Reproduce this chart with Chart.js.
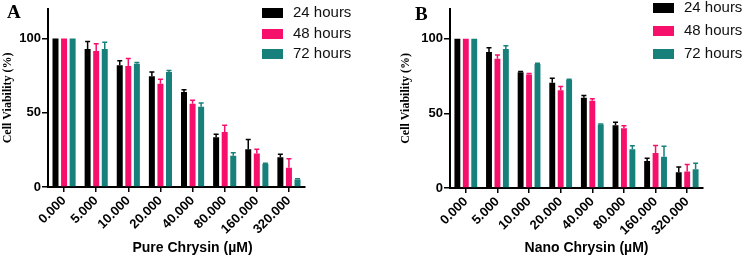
<!DOCTYPE html>
<html>
<head>
<meta charset="utf-8">
<script src="https://cdn.jsdelivr.net/npm/chart.js@4.4.1/dist/chart.umd.min.js"></script>
<style>
  body { margin: 0; background: #fff; }
  #wrap { position: relative; width: 746px; height: 260px; overflow: hidden; }
  .panel { position: absolute; top: 0; width: 373px; height: 260px; }
  .letter { position: absolute; font: bold 19px "Liberation Serif", "Times New Roman", serif; color: #000; }
</style>
</head>
<body>
<div id="wrap">
  <div class="panel" style="left:0"><canvas id="chartA" width="373" height="260"></canvas></div>
  <div class="panel" style="left:373px"><canvas id="chartB" width="373" height="260"></canvas></div>
  <div class="letter" style="left:7px; top:1px">A</div>
  <div class="letter" style="left:415px; top:3px">B</div>
</div>
<script>
// doses on the x axis
const doses = ['0.000', '5.000', '10.000', '20.000', '40.000', '80.000', '160.000', '320.000'];
const seriesNames = ['24 hours', '48 hours', '72 hours'];
const seriesColors = ['#000000', '#f7106b', '#17807a'];
const yTicks = [0, 50, 100];

// panel A - pure chrysin (mean, upper error)
const pure24 = [100, 93, 82, 74.5, 64, 33.5, 25.5, 20];
const pure24Err = [0, 5, 3, 3, 1.5, 2, 6.5, 2];
const pure48 = [100, 91.5, 81.5, 69.5, 56, 37, 22.5, 13];
const pure48Err = [0, 5, 5, 3, 2.5, 4.5, 3, 6];
const pure72 = [100, 93, 83, 77.5, 54, 21, 15.5, 5];
const pure72Err = [0, 4.5, 0.8, 1, 2.5, 2, 0.5, 0.5];

// panel B - nano chrysin
const nano24 = [100, 91, 77.5, 70.5, 60.5, 42, 18, 10.5];
const nano24Err = [0, 3, 0.5, 3, 1.5, 2, 2, 3.5];
const nano48 = [100, 86.5, 76, 65.5, 58.5, 40, 23.5, 11];
const nano48Err = [0, 2.5, 0.7, 2.5, 1.3, 1.7, 5, 4.8];
const nano72 = [100, 93, 83, 72.5, 42.5, 26, 21, 12.5];
const nano72Err = [0, 2.2, 0.5, 0.4, 0.4, 2.3, 7, 4];

const sansBold = { family: '"Liberation Sans", Arial, sans-serif', weight: 'bold', size: 13 };

// upward error bars with a small cap
const errorBars = {
  id: 'errorBars',
  afterDatasetsDraw(chart) {
    const ctx = chart.ctx;
    const y = chart.scales.y;
    chart.data.datasets.forEach((ds, i) => {
      const meta = chart.getDatasetMeta(i);
      meta.data.forEach((bar, j) => {
        const err = ds.errors[j];
        if (!err) return;
        const top = y.getPixelForValue(ds.data[j] + err);
        ctx.save();
        ctx.strokeStyle = ds.backgroundColor;
        ctx.lineWidth = 1.5;
        ctx.beginPath();
        ctx.moveTo(bar.x, bar.y);
        ctx.lineTo(bar.x, top);
        ctx.moveTo(bar.x - 2.5, top);
        ctx.lineTo(bar.x + 2.5, top);
        ctx.stroke();
        ctx.restore();
      });
    });
  }
};

// legend inside the plot (top right) + x title sitting a bit right of centre
const extras = {
  id: 'extras',
  afterDraw(chart, args, opts) {
    const ctx = chart.ctx;
    const area = chart.chartArea;
    ctx.save();
    ctx.font = '15px "Liberation Sans", Arial, sans-serif';
    ctx.textBaseline = 'middle';
    chart.data.datasets.forEach((ds, i) => {
      const cy = opts.rows[i];
      ctx.fillStyle = ds.backgroundColor;
      ctx.fillRect(opts.legendX, cy - 5, 21, 10);
      ctx.fillStyle = '#111';
      ctx.fillText(ds.label, opts.legendX + 31, cy);
    });
    ctx.font = 'bold 14px "Liberation Sans", Arial, sans-serif';
    ctx.textAlign = 'center';
    ctx.fillStyle = '#000';
    ctx.fillText(opts.xTitle, (area.left + area.right) / 2 + opts.xTitleShift, 248);
    ctx.restore();
  }
};

function makeChart(id, series, errors, xTitle, layout) {
  new Chart(document.getElementById(id), {
    type: 'bar',
    data: {
      labels: doses,
      datasets: series.map((s, i) => ({
        label: seriesNames[i],
        data: s,
        errors: errors[i],
        backgroundColor: seriesColors[i],
        barPercentage: 0.7,
        categoryPercentage: 0.8
      }))
    },
    options: {
      responsive: false,
      animation: false,
      layout: { padding: { left: 0, right: layout.right, top: layout.top, bottom: 0 } },
      plugins: {
        legend: { display: false },
        tooltip: { enabled: false },
        extras: { legendX: layout.legendX, rows: layout.legendRows, xTitle: xTitle, xTitleShift: layout.xTitleShift }
      },
      scales: {
        x: {
          grid: { display: true, drawOnChartArea: false, offset: false, color: '#000', lineWidth: 1.5, tickLength: 5 },
          border: { color: '#000', width: 2 },
          ticks: { color: '#000', minRotation: 45, maxRotation: 45, padding: 1, font: sansBold },
          afterFit(scale) { scale.height = layout.xHeight; }
        },
        y: {
          min: 0,
          max: 120,
          grid: { display: true, drawOnChartArea: false, color: '#000', lineWidth: 1.5, tickLength: 6 },
          border: { color: '#000', width: 2 },
          ticks: { color: '#000', padding: 1, stepSize: 50, font: sansBold },
          afterBuildTicks(scale) { scale.ticks = yTicks.map(v => ({ value: v })); },
          title: {
            display: true,
            text: 'Cell Viability (%)',
            color: '#000',
            padding: { top: layout.yTitlePad, bottom: 0 },
            font: { family: '"Liberation Serif", "Times New Roman", serif', weight: 'bold', size: 12 }
          },
          afterFit(scale) { scale.width = layout.yWidth; }
        }
      }
    },
    plugins: [errorBars, extras]
  });
}

makeChart('chartA', [pure24, pure48, pure72], [pure24Err, pure48Err, pure72Err], 'Pure Chrysin (µM)',
  { right: 68, top: 5, yWidth: 48, xHeight: 73, yTitlePad: 1, xTitleShift: 16, legendX: 262, legendRows: [13, 34, 54] });
makeChart('chartB', [nano24, nano48, nano72], [nano24Err, nano48Err, nano72Err], 'Nano Chrysin (µM)',
  { right: 43, top: 7, yWidth: 77, xHeight: 72, yTitlePad: 26, xTitleShift: 10, legendX: 280, legendRows: [8, 31, 54] });
</script>
</body>
</html>
